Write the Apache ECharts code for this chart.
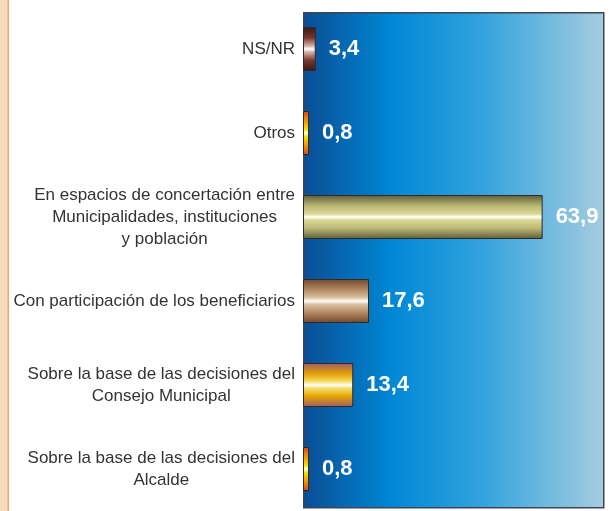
<!DOCTYPE html>
<html>
<head>
<meta charset="utf-8">
<script src="https://cdn.jsdelivr.net/npm/echarts@6/dist/echarts.min.js"></script>
<style>
  html, body { margin: 0; padding: 0; background: #fff; }
  #chart { width: 612px; height: 511px; }
</style>
</head>
<body>
<div id="chart"></div>
<script>
// categorías de arriba hacia abajo
const categories = [
  'NS/NR',
  'Otros',
  'En espacios de concertación entre\nMunicipalidades, instituciones\ny población',
  'Con participación de los beneficiarios',
  'Sobre la base de las decisiones del\nConsejo Municipal',
  'Sobre la base de las decisiones del\nAlcalde',
]
const values = [3.4, 0.8, 63.9, 17.6, 13.4, 0.8]

// colores de cada barra: borde, medio, claro
const barColors = [
  ['#381816', '#7a3830', '#d2b0a8'],
  ['#d6421a', '#f0a000', '#ffe400'],
  ['#5e5c3a', '#bab674', '#dcd896'],
  ['#74442f', '#b48a62', '#dcc4a4'],
  ['#a05a6a', '#e2a400', '#f8e070'],
  ['#d6421a', '#f0a000', '#ffe400'],
]

function cylinder(c) {
  return new echarts.graphic.LinearGradient(0, 0, 0, 1, [
    { offset: 0, color: c[0] },
    { offset: 0.25, color: c[1] },
    { offset: 0.43, color: c[2] },
    { offset: 0.5, color: '#ffffff' },
    { offset: 0.57, color: c[2] },
    { offset: 0.76, color: c[1] },
    { offset: 1, color: c[0] },
  ])
}

const chart = echarts.init(document.getElementById('chart'))

const option = {
  animation: false,
  backgroundColor: '#ffffff',
  graphic: [
    { type: 'rect', left: 0, top: 0, z: 0, shape: { width: 8, height: 511 }, style: { fill: '#f6dbbf' } },
    { type: 'rect', left: 7.5, top: 0, z: 0, shape: { width: 1.5, height: 511 }, style: { fill: '#f2a76a' } },
    {
      type: 'rect',
      left: 303,
      top: 12,
      z: 0,
      shape: { width: 300, height: 495 },
      style: {
        fill: new echarts.graphic.LinearGradient(0, 0, 1, 0, [
          { offset: 0, color: '#0a4d94' },
          { offset: 0.3, color: '#0088d6' },
          { offset: 0.6, color: '#34a3de' },
          { offset: 1, color: '#a6cde0' },
        ]),
        stroke: '#3e474f',
        lineWidth: 1.5,
      },
    },
  ],
  grid: {
    left: 303,
    right: 9,
    top: 7,
    height: 506,
    containLabel: false,
  },
  xAxis: {
    type: 'value',
    min: 0,
    max: 80,
    show: false,
  },
  yAxis: {
    type: 'category',
    inverse: true,
    data: categories,
    axisLine: { show: false },
    axisTick: { show: false },
    splitLine: { show: false },
    axisLabel: {
      margin: 8,
      color: '#333333',
      fontSize: 17,
      fontFamily: 'Liberation Sans, Arial, sans-serif',
      lineHeight: 22,
      formatter: (v) => v.split('\n').map((l) => '{c|' + l + '}').join('\n'),
      rich: {
        c: {
          align: 'center',
          color: '#333333',
          fontSize: 17,
          fontFamily: 'Liberation Sans, Arial, sans-serif',
          lineHeight: 22,
        },
      },
    },
  },
  series: [
    {
      type: 'bar',
      z: 5,
      barWidth: 44,
      barMinHeight: 6,
      data: values.map((v, i) => ({
        value: v,
        itemStyle: {
          color: cylinder(barColors[i]),
          borderColor: '#2e2a26',
          borderWidth: 1,
        },
      })),
      label: {
        show: true,
        position: 'right',
        distance: 13,
        color: '#ffffff',
        fontWeight: 'bold',
        fontSize: 22,
        fontFamily: 'Liberation Sans, Arial, sans-serif',
        formatter: (p) => p.value.toFixed(1).replace('.', ','),
      },
    },
  ],
}

chart.setOption(option)
</script>
</body>
</html>
